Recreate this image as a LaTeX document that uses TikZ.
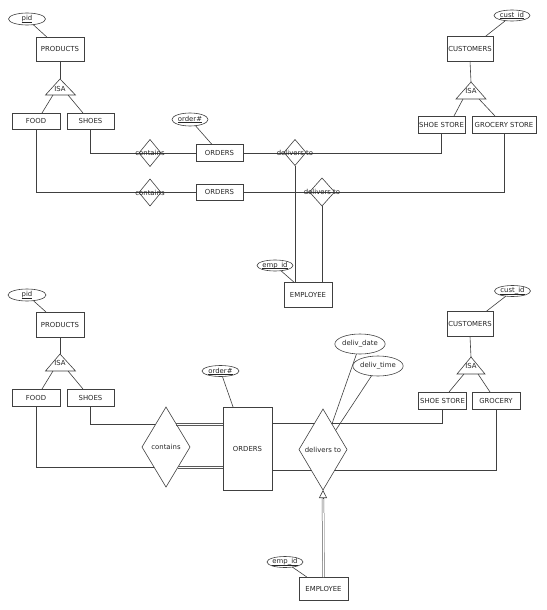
\documentclass[tikz,border=0pt]{standalone}
\usepackage{fontspec}
\setmainfont{DejaVu Sans}
\usetikzlibrary{shapes.geometric,arrows.meta,backgrounds}
\newcommand\ulx[1]{\setbox0\hbox{#1}\rlap{\rule[-1.1pt]{\wd0}{0.4pt}}\box0}
\begin{document}
\begin{tikzpicture}[x=1pt,y=-1pt,
  every node/.style={font=\fontsize{6.9}{8}\selectfont, text=black!85, inner sep=0pt, outer sep=0pt},
  sz/.style 2 args={minimum width=#1pt, minimum height=#2pt},
  ent/.style={draw=black!75, line width=0.6pt, rectangle, fill=white},
  attr/.style={draw=black!75, line width=0.6pt, ellipse, fill=white},
  rel/.style={draw=black!75, line width=0.6pt, diamond},
  conn/.style={draw=black!75, line width=0.6pt},
  thinl/.style={draw=black!65, line width=0.55pt},
  dbl/.style={draw=black!65, line width=0.5pt, double=white, double distance=1.3pt},
  isa/.style={draw=black!75, line width=0.6pt, fill=white, line join=miter}
]
\useasboundingbox (0,0) rectangle (546,610);

% ================= TOP DIAGRAM =================
\node[attr, sz={37}{12}] (pid1) at (27,19) {\ulx{pid}};
\node[ent, sz={48}{24}] (prod1) at (60,49) {PRODUCTS};
\coordinate (ta1) at (60,79);
\coordinate (tl1) at (45.5,95);
\coordinate (tr1) at (75.5,95);
\coordinate (tb1l) at (53,95);
\coordinate (tb1r) at (68,95);
\node[ent, sz={48}{16}] (food1) at (36,121) {FOOD};
\node[ent, sz={47}{16}] (shoes1) at (90.5,121) {SHOES};

\node[attr, sz={36}{13}] (ordat1) at (190,119.5) {\ulx{order\#}};
\node[ent, sz={47}{17}] (ord1) at (219.5,153) {ORDERS};
\node[ent, sz={47}{16}] (ord2) at (219.5,192) {ORDERS};

\node[rel, sz={22}{27}] (con1) at (150,153) {};
\node[rel, sz={22}{27}] (con2) at (150,192.5) {};
\node[rel, sz={22}{26}] (dlv1) at (295,152.5) {};
\node[rel, sz={25}{28}] (dlv2) at (322,192) {};

\node[attr, sz={36}{11}] (custat1) at (512,15.5) {\ulx{cust\_id}};
\node[ent, sz={46}{25}] (cust1) at (470,48.5) {CUSTOMERS};
\coordinate (ta2) at (471,82);
\coordinate (tl2) at (456,99);
\coordinate (tr2) at (486,99);
\coordinate (tb2l) at (463,99);
\coordinate (tb2r) at (479,99);
\node[ent, sz={47}{17}] (shst1) at (441.5,124.5) {SHOE STORE};
\node[ent, sz={64}{17}] (groc1) at (504,124.5) {GROCERY STORE};

\node[attr, sz={36}{11}] (empat1) at (275,265.5) {\ulx{emp\_id}};
\node[ent, sz={48}{25}] (emp1) at (308,294.5) {EMPLOYEE};

% connectors top
\draw[conn] (pid1) -- (prod1);
\draw[conn] (prod1.south) -- (ta1);
\draw[isa] (ta1) -- (tl1) -- (tr1) -- cycle;
\node (isat1) at (60,88.5) {ISA};
\draw[conn] (tb1l) -- ([xshift=6pt]food1.north);
\draw[conn] (tb1r) -- ([xshift=-7.5pt]shoes1.north);

\draw[conn] (shoes1.south) |- (ord1.west);
\draw[conn] (food1.south) |- (ord2.west);
\draw[conn] (ordat1) -- (ord1);
\draw[conn] (ord1.east) -| (shst1.south);
\draw[conn] (ord2.east) -| (groc1.south);
\draw[conn] (dlv1.south) -- (dlv1.south |- emp1.north);
\draw[conn] (dlv2.south) -- (dlv2.south |- emp1.north);
\draw[conn] (empat1) -- (emp1);

\draw[conn] (custat1) -- (cust1);
\draw[conn] (cust1.south) -- (ta2);
\draw[isa] (ta2) -- (tl2) -- (tr2) -- cycle;
\node (isat2) at (471,91) {ISA};
\draw[conn] (tb2l) -- ([xshift=12.5pt]shst1.north);
\draw[conn] (tb2r) -- ([xshift=-9pt]groc1.north);

\node (lcon1) at (con1.center) {contains};
\node (lcon2) at (con2.center) {contains};
\node (ldlv1) at (dlv1.center) {delivers to};
\node (ldlv2) at (dlv2.center) {delivers to};

% ================= BOTTOM DIAGRAM =================
\node[attr, sz={38}{12}] (pid2) at (27,295) {\ulx{pid}};
\node[ent, sz={48}{25}] (prod2) at (60,324.5) {PRODUCTS};
\coordinate (ta3) at (60,354);
\coordinate (tl3) at (45.5,371);
\coordinate (tr3) at (75.5,371);
\coordinate (tb3l) at (53,371);
\coordinate (tb3r) at (68,371);
\node[ent, sz={48}{17}] (food2) at (36,397.5) {FOOD};
\node[ent, sz={47}{17}] (shoes2) at (90.5,397.5) {SHOES};

\node[rel, fill=white, sz={48}{80}] (con3) at (166,447) {contains};
\node[attr, sz={37}{11}] (ordat2) at (220.5,371) {\ulx{order\#}};
\node[ent, sz={49}{83}] (ord3) at (247.5,448.5) {ORDERS};
\node[rel, fill=white, sz={48}{81}] (dlv3) at (323,449.5) {delivers to};

\node[attr, sz={48}{20}] (ddate) at (360,344) {deliv\_date};
\node[attr, sz={50}{20}] (dtime) at (378,366) {deliv\_time};

\node[attr, sz={36}{11}] (custat2) at (512.5,291) {\ulx{cust\_id}};
\node[ent, sz={46}{25}] (cust2) at (470,324) {CUSTOMERS};
\coordinate (ta4) at (471,357);
\coordinate (tl4) at (457,374);
\coordinate (tr4) at (485,374);
\coordinate (tb4l) at (464,374);
\coordinate (tb4r) at (478,374);
\node[ent, sz={48}{17}] (shst2) at (442.5,400.5) {SHOE STORE};
\node[ent, sz={48}{17}] (groc2) at (496,400.5) {GROCERY};

\node[attr, sz={36}{11}] (empat2) at (285,562) {\ulx{emp\_id}};
\node[ent, sz={49}{23}] (emp2) at (323.5,588.5) {EMPLOYEE};

\coordinate (yC) at (0,423);
\coordinate (yD) at (0,470);

\draw[conn] (pid2) -- (prod2);
\draw[conn] (prod2.south) -- (ta3);
\draw[isa] (ta3) -- (tl3) -- (tr3) -- cycle;
\node (isat3) at (60,363) {ISA};
\draw[conn] (tb3l) -- ([xshift=6pt]food2.north);
\draw[conn] (tb3r) -- ([xshift=-7.5pt]shoes2.north);

\draw[conn] (custat2) -- (cust2);
\draw[conn] (cust2.south) -- (ta4);
\draw[isa] (ta4) -- (tl4) -- (tr4) -- cycle;
\node (isat4) at (471,366) {ISA};
\draw[conn] (tb4l) -- ([xshift=6.5pt]shst2.north);
\draw[conn] (tb4r) -- ([xshift=-6pt]groc2.north);

\draw[conn] (ordat2) -- (ord3);
\draw[conn] (empat2) -- (emp2);

% double lines contains -> ORDERS (from the diamond border)
\coordinate (cA) at (176,424);
\coordinate (cB) at (178,467);
\draw[thinl] ([yshift=1pt]cA) -- ([yshift=1pt]ord3.west |- cA);
\draw[thinl] ([yshift=-1pt]cA) -- ([yshift=-1pt]ord3.west |- cA);
\draw[thinl] ([yshift=1pt]cB) -- ([yshift=1pt]ord3.west |- cB);
\draw[thinl] ([yshift=-1pt]cB) -- ([yshift=-1pt]ord3.west |- cB);

\begin{pgfonlayer}{background}
\fill[white] (0,0) rectangle (546,610);
\draw[conn] (shoes2.south) |- (con3.center |- cA);
\draw[conn] (food2.south) |- (con3.center |- cB);
\draw[conn] (ord3.east |- yC) -| (shst2.south);
\draw[conn] (ord3.east |- yD) -| (groc2.south);
\draw[conn] (ddate) -- (dlv3.center);
\draw[conn] (dtime) -- (dlv3.center);
\end{pgfonlayer}

\coordinate (arrbase) at ([yshift=-8pt]dlv3.south);
\draw[dbl] (emp2.north) -- (arrbase);
\draw[conn, -{Triangle[open, length=8pt, width=8pt]}] (arrbase) -- (dlv3.south);
\end{tikzpicture}
\end{document}
